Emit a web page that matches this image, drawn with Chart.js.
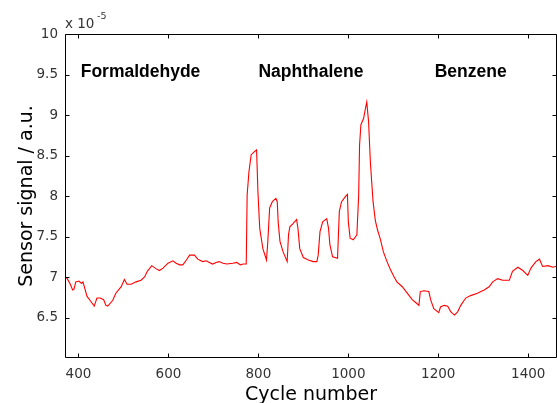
<!DOCTYPE html>
<html>
<head>
<meta charset="utf-8">
<script src="https://cdn.jsdelivr.net/npm/chart.js@4.4.1/dist/chart.umd.min.js"></script>
<style>
  html, body { margin: 0; padding: 0; background: #fff; }
  #wrap { position: relative; width: 557px; height: 403px; }
</style>
</head>
<body>
<div id="wrap"><canvas id="sensorChart"></canvas></div>
<script>
// cycle number and sensor signal (in units of 1e-5 a.u.)
var cycles = [
  370, 375, 381, 387, 390, 394, 401, 407, 410, 414, 419, 426, 435, 441, 448, 456, 461, 465,
  476, 483, 495, 502, 508, 517, 528, 539, 547, 553, 563, 573, 580, 588, 599, 610, 617, 625,
  632, 640, 647, 658, 665, 676, 684, 691, 698, 706, 713, 721, 730, 743, 752, 760, 766, 773,
  775, 779, 784, 792, 796, 799, 803, 810, 818, 821, 825, 831, 839, 842, 844, 848, 855,
  864, 867, 870, 877, 885, 888, 892, 900, 911, 922, 930, 933, 937, 943, 952, 956, 959, 965,
  976, 980, 985, 993, 998, 1000, 1004, 1011, 1019, 1023, 1025, 1028, 1034, 1038, 1041, 1045,
  1049, 1055, 1060, 1065, 1071, 1078, 1086, 1093, 1101, 1108, 1120, 1131, 1142, 1153, 1157,
  1160, 1168, 1179, 1183, 1190, 1201, 1205, 1213, 1221, 1228, 1236, 1243, 1250, 1261, 1272,
  1287, 1302, 1313, 1321, 1332, 1343, 1358, 1365, 1377, 1388, 1399, 1406, 1417, 1425, 1432,
  1444, 1455, 1466
];
var signal = [
  7.00, 6.98, 6.92, 6.84, 6.85, 6.94, 6.95, 6.92, 6.94, 6.86, 6.76, 6.71, 6.64, 6.74, 6.74, 6.72, 6.65, 6.64,
  6.71, 6.80, 6.88, 6.97, 6.91, 6.91, 6.94, 6.96, 7.00, 7.07, 7.14, 7.10, 7.08, 7.11, 7.17, 7.20, 7.17, 7.15,
  7.15, 7.21, 7.27, 7.27, 7.22, 7.19, 7.20, 7.18, 7.16, 7.18, 7.19, 7.17, 7.16, 7.17, 7.18, 7.15, 7.16, 7.16,
  8.01, 8.30, 8.51, 8.55, 8.57, 8.05, 7.60, 7.35, 7.21, 7.44, 7.85, 7.93, 7.97, 7.93, 7.68, 7.44, 7.31,
  7.19, 7.52, 7.62, 7.66, 7.71, 7.60, 7.35, 7.24, 7.21, 7.19, 7.19, 7.27, 7.56, 7.68, 7.72, 7.60, 7.40, 7.25,
  7.23, 7.81, 7.93, 7.99, 8.02, 7.68, 7.48, 7.46, 7.52, 8.01, 8.63, 8.88, 8.96, 9.08, 9.16, 8.92,
  8.42, 7.93, 7.70, 7.58, 7.47, 7.31, 7.19, 7.10, 7.01, 6.94, 6.88, 6.80, 6.72, 6.67, 6.65,
  6.82, 6.83, 6.82, 6.72, 6.61, 6.56, 6.63, 6.65, 6.64, 6.57, 6.53, 6.57, 6.65, 6.74, 6.77,
  6.80, 6.84, 6.88, 6.94, 6.98, 6.96, 6.96, 7.07, 7.12, 7.08, 7.02, 7.11, 7.19, 7.22, 7.13,
  7.14, 7.12, 7.14
];

// gas labels and where they sit (cycle, signal)
var gasNames = ['Formaldehyde', 'Naphthalene', 'Benzene'];
var gasLabelX = [405, 800, 1192];
var gasLabelY = [9.47, 9.47, 9.47];

var xTicks = [400, 600, 800, 1000, 1200, 1400];
var yTicks = [6.5, 7, 7.5, 8, 8.5, 9, 9.5, 10];

var points = cycles.map(function (c, i) { return { x: c, y: signal[i] }; });

var tickFont = { family: 'DejaVu Sans', size: 13.5 };

// box round the plot area with small inward ticks on every side
var boxPlugin = {
  id: 'boxPlugin',
  afterDatasetsDraw: function (chart) {
    var ctx = chart.ctx, a = chart.chartArea;
    var xs = chart.scales.x, ys = chart.scales.y;
    var L = Math.round(a.left) + 0.5, R = Math.round(a.right) - 0.5;
    var T = Math.round(a.top) + 0.5, B = Math.round(a.bottom) - 0.5;
    ctx.save();
    ctx.strokeStyle = '#000';
    ctx.lineWidth = 1;
    ctx.beginPath();
    ctx.moveTo(L, T); ctx.lineTo(R, T); ctx.lineTo(R, B); ctx.lineTo(L, B); ctx.closePath();
    xTicks.forEach(function (v) {
      var px = Math.round(xs.getPixelForValue(v)) + 0.5;
      ctx.moveTo(px, B); ctx.lineTo(px, B - 4);
      ctx.moveTo(px, T); ctx.lineTo(px, T + 4);
    });
    yTicks.forEach(function (v) {
      var py = Math.round(ys.getPixelForValue(v)) + 0.5;
      ctx.moveTo(L, py); ctx.lineTo(L + 4, py);
      ctx.moveTo(R, py); ctx.lineTo(R - 4, py);
    });
    ctx.stroke();
    ctx.restore();
  }
};

// axis titles, exponent and gas names
var textPlugin = {
  id: 'textPlugin',
  afterDraw: function (chart) {
    var ctx = chart.ctx, a = chart.chartArea;
    var xs = chart.scales.x, ys = chart.scales.y;
    ctx.save();
    ctx.fillStyle = '#000';
    ctx.font = 'bold 17.5px "Liberation Sans", Arial, sans-serif';
    ctx.textAlign = 'left';
    ctx.textBaseline = 'alphabetic';
    gasNames.forEach(function (name, i) {
      ctx.fillText(name, xs.getPixelForValue(gasLabelX[i]), ys.getPixelForValue(gasLabelY[i]));
    });

    ctx.font = '19px "DejaVu Sans"';
    ctx.textAlign = 'center';
    ctx.fillText('Cycle number', (a.left + a.right) / 2, 400);

    ctx.save();
    ctx.translate(32, (a.top + a.bottom) / 2);
    ctx.rotate(-Math.PI / 2);
    ctx.fillText('Sensor signal / a.u.', 0, 0);
    ctx.restore();

    ctx.fillStyle = '#333';
    ctx.textAlign = 'left';
    ctx.font = '13.5px "DejaVu Sans"';
    ctx.fillText('x 10', 65, 28);
    ctx.font = '9.5px "DejaVu Sans"';
    ctx.fillText('-5', 97, 19);
    ctx.restore();
  }
};

var canvasElement = document.getElementById('sensorChart');
var configure = {
  type: 'line',
  data: {
    datasets: [{
      label: 'Sensor signal',
      data: points,
      borderColor: 'rgb(255, 0, 0)',
      borderWidth: 1.1,
      pointRadius: 0,
      tension: 0,
      fill: false
    }]
  },
  options: {
    responsive: false,
    animation: false,
    layout: { padding: { left: 0, top: 34, right: 0, bottom: 0 } },
    plugins: { legend: { display: false }, tooltip: { enabled: false } },
    scales: {
      x: {
        type: 'linear',
        min: 370,
        max: 1464,
        grid: { display: false, drawTicks: false },
        border: { display: false },
        afterFit: function (scale) { scale.height = 45; },
        afterBuildTicks: function (scale) {
          scale.ticks = xTicks.map(function (v) { return { value: v }; });
        },
        ticks: {
          font: tickFont, color: '#333', padding: 8, maxRotation: 0,
          callback: function (v) { return String(v); }
        }
      },
      y: {
        min: 6,
        max: 10,
        grid: { display: false, drawTicks: false },
        border: { display: false },
        afterFit: function (scale) { scale.width = 65; },
        afterBuildTicks: function (scale) {
          scale.ticks = yTicks.map(function (v) { return { value: v }; });
        },
        ticks: {
          font: tickFont, color: '#333', padding: 7,
          callback: function (v) { return String(v); }
        }
      }
    }
  },
  plugins: [boxPlugin, textPlugin]
};

var canvas = canvasElement;
canvas.width = 557;
canvas.height = 403;
var sensorChart = new Chart(canvasElement, configure);
</script>
</body>
</html>
